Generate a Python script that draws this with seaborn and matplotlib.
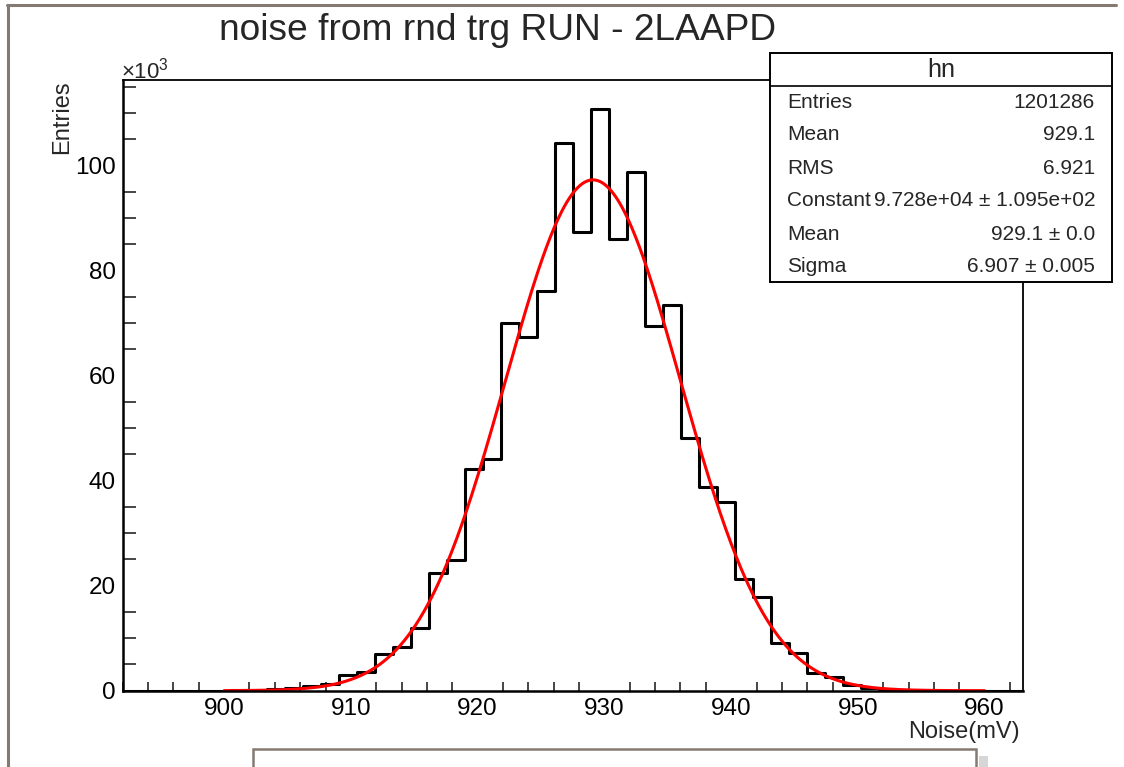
import numpy as np
import pandas as pd
import matplotlib
matplotlib.use("Agg")
import matplotlib.pyplot as plt
from matplotlib.patches import Rectangle
from matplotlib.lines import Line2D
from matplotlib.ticker import MultipleLocator, FuncFormatter
import seaborn as sns

# ---------------- data ----------------
title = "noise from rnd trg RUN - 2LAAPD"
x_label = "Noise(mV)"
y_label = "Entries"
x_min, x_max, n_bins = 892.0, 963.0, 50
# bin contents (entries), 50 bins from 892 to 963
counts = [0, 0, 0, 0, 0, 20, 50, 120, 300, 500,
          900, 1250, 2900, 3500, 6900, 8300, 12000, 22400, 24900, 42200,
          44100, 70000, 67400, 76100, 104300, 87300, 110800, 86000, 98700, 69400,
          73500, 48200, 38700, 35900, 21300, 17800, 9100, 7200, 3300, 2550,
          1100, 600, 300, 150, 80, 30, 10, 0, 0, 0]
# gaussian fit parameters (from the stats box)
fit_constant, fit_mean, fit_sigma = 9.728e4, 929.1, 6.907
fit_range = (900.0, 960.0)
stats_title = "hn"
stats_names = ["Entries", "Mean", "RMS", "Constant", "Mean", "Sigma"]
stats_values = ["1201286", "929.1", "6.921", "9.728e+04 ± 1.095e+02",
                "929.1 ± 0.0", "6.907 ± 0.005"]
x_ticks = [900, 910, 920, 930, 940, 950, 960]
y_ticks = [0, 20000, 40000, 60000, 80000, 100000]
y_top = 116300

# ---------------- figure ----------------
W, H = 1124, 767
sns.set_theme(style="white")
plt.rcParams['font.family'] = ['Liberation Sans', 'DejaVu Sans']
plt.rcParams['mathtext.fontset'] = 'custom'
plt.rcParams['mathtext.rm'] = 'Liberation Sans'
plt.rcParams['mathtext.it'] = 'Liberation Sans'

fig = plt.figure(figsize=(W / 100, H / 100), dpi=100)
fig.patch.set_facecolor("white")

def fx(px):
    return px / W

def fy(py):
    return 1 - py / H

ax_l, ax_r, ax_t, ax_b = 122.7, 1022.7, 80.0, 690.7
ax = fig.add_axes([fx(ax_l), fy(ax_b), fx(ax_r - ax_l), (ax_b - ax_t) / H])
ax.set_facecolor("white")

edges = np.linspace(x_min, x_max, n_bins + 1)
centers = (edges[:-1] + edges[1:]) / 2
df = pd.DataFrame({"x": centers, "w": counts})
sns.histplot(data=df, x="x", weights="w", bins=n_bins, binrange=(x_min, x_max),
             element="step", fill=False, color="black", linewidth=2.2, ax=ax)

xf = np.linspace(fit_range[0], fit_range[1], 600)
yf = fit_constant * np.exp(-0.5 * ((xf - fit_mean) / fit_sigma) ** 2)
sns.lineplot(x=xf, y=yf, color="#ff0000", linewidth=2.2, ax=ax)

ax.set_xlim(x_min, x_max)
ax.set_ylim(0, y_top)
ax.set_xlabel("")
ax.set_ylabel("")
ax.set_xticks(x_ticks)
ax.set_yticks(y_ticks)
ax.xaxis.set_minor_locator(MultipleLocator(2))
ax.yaxis.set_minor_locator(MultipleLocator(5000))
ax.yaxis.set_major_formatter(FuncFormatter(lambda v, p: f"{v/1000:.0f}"))
ax.tick_params(axis="x", which="major", direction="in", length=13.5, width=1.3,
               labelsize=17.5, pad=5, colors="black", top=False)
ax.tick_params(axis="x", which="minor", direction="in", length=6.5, width=1.2,
               top=False, bottom=True)
ax.tick_params(axis="y", which="major", direction="in", length=18.5, width=1.3,
               labelsize=17.5, pad=5, colors="black", right=False)
ax.tick_params(axis="y", which="minor", direction="in", length=9.5, width=1.2,
               right=False, left=True)
for s in ax.spines.values():
    s.set_color("black")
    s.set_linewidth(1.3)
ax.spines["bottom"].set_linewidth(1.8)
ax.spines["left"].set_linewidth(1.8)

# axis titles
fig.text(fx(62), fy(80), y_label, rotation=90, ha="center", va="top", fontsize=17)
fig.text(fx(1020), fy(732), x_label, ha="right", va="center", fontsize=17)
fig.text(fx(121), fy(71), r"×10$^{3}$", ha="left", va="center", fontsize=16)

# title
fig.text(fx(498), fy(31), title, ha="center", va="center", fontsize=26.7)

# stats box
bx_l, bx_r, bx_t, bx_b = 770, 1112, 53, 282
fig.add_artist(Rectangle((fx(bx_l), fy(bx_b)), fx(bx_r - bx_l), (bx_b - bx_t) / H,
                         facecolor="white", edgecolor="black", linewidth=1.4,
                         transform=fig.transFigure, zorder=5))
fig.add_artist(Line2D([fx(bx_l), fx(bx_r)], [fy(86), fy(86)], color="black",
                      linewidth=1.2, transform=fig.transFigure, zorder=6))
fig.text(fx((bx_l + bx_r) / 2), fy(70), stats_title, ha="center", va="center",
         fontsize=18, zorder=7)
row_y = [102, 135, 168, 201, 234, 266]
for name, val, ry in zip(stats_names, stats_values, row_y):
    fig.text(fx(787), fy(ry), name, ha="left", va="center", fontsize=15, zorder=7)
    fig.text(fx(1095), fy(ry), val, ha="right", va="center", fontsize=15, zorder=7)

# outer canvas frame
frame_c = "#857a72"
fig.add_artist(Line2D([fx(8), fx(8)], [fy(5), 0], color=frame_c, linewidth=2.2,
                      transform=fig.transFigure))
fig.add_artist(Line2D([fx(7), fx(1116)], [fy(5), fy(5)], color=frame_c, linewidth=2.2,
                      transform=fig.transFigure))

# bottom (empty) box with shadow
fig.add_artist(Rectangle((fx(979), 0), fx(9), (767 - 756) / H, facecolor="#bbbbbb",
                         edgecolor="none", alpha=0.6, transform=fig.transFigure))
fig.add_artist(Rectangle((fx(253), -0.01), fx(976 - 253), (767 - 749) / H + 0.01,
                         facecolor="white", edgecolor=frame_c, linewidth=1.8,
                         transform=fig.transFigure))

fig.savefig("out.png", dpi=100)
